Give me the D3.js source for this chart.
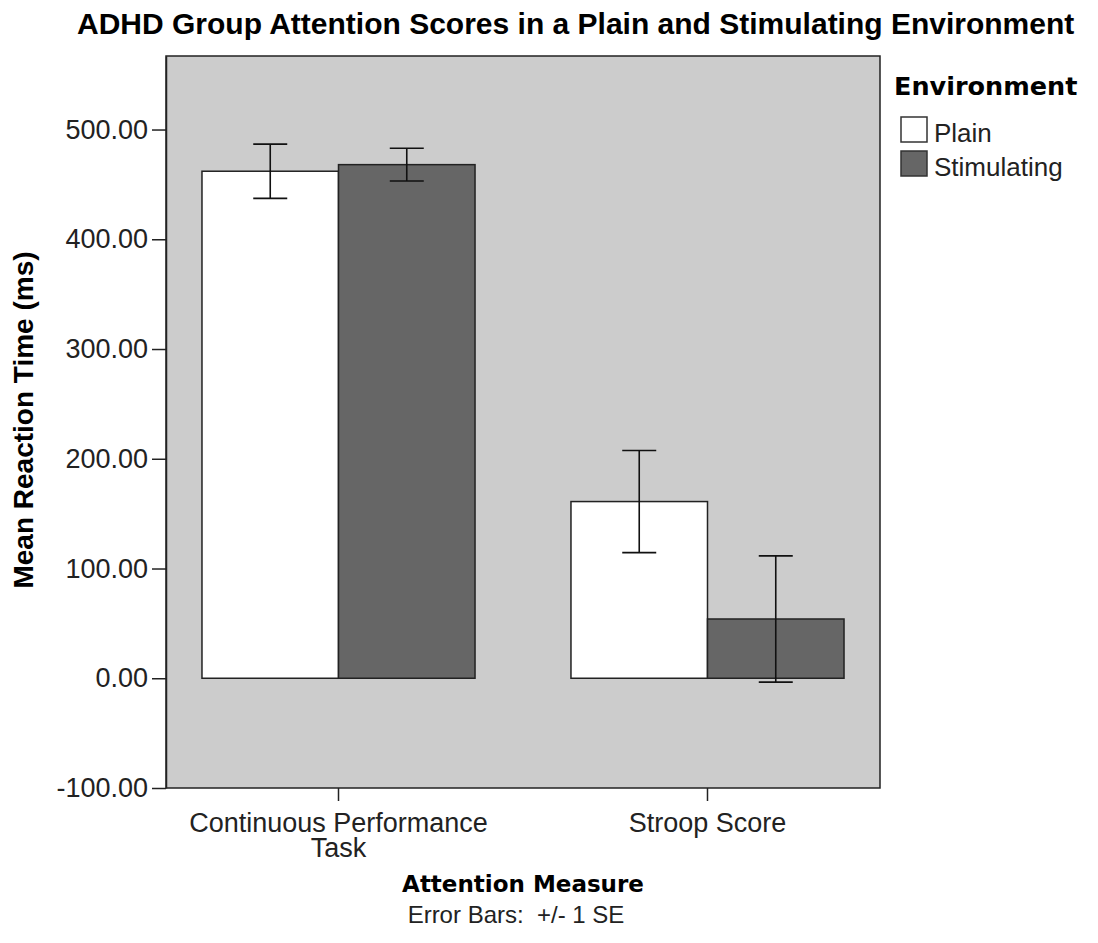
<!DOCTYPE html>
<html>
<head>
<meta charset="utf-8">
<script src="https://cdn.jsdelivr.net/npm/d3@7"></script>
<style>
  html, body { margin: 0; padding: 0; background: #fff; }
  svg { display: block; }
</style>
</head>
<body>
<svg id="chart" width="1098" height="943"></svg>
<script>
const categories = ["Continuous Performance Task", "Stroop Score"];
const categoryLines = [["Continuous Performance", "Task"], ["Stroop Score"]];
const series = ["Plain", "Stimulating"];
const plainMean = [462, 161];
const plainSE = [24.7, 46.5];
const stimMean = [468, 54];
const stimSE = [14.9, 57.5];
const yTicks = [-100, 0, 100, 200, 300, 400, 500];

const seriesColors = {"Plain": "#ffffff", "Stimulating": "#666666"};
const data = [];
categories.forEach((c, i) => {
  data.push({cat: c, s: "Plain", v: plainMean[i], se: plainSE[i]});
  data.push({cat: c, s: "Stimulating", v: stimMean[i], se: stimSE[i]});
});

const svg = d3.select("#chart");
const L = 166, R = 880, T = 56, B = 788;
const regular = "'Liberation Sans', Arial, sans-serif";
const boldAlt = "'DejaVu Sans', Verdana, sans-serif";

const y = d3.scaleLinear().domain([-100, 567]).range([B, T]);
const x0 = d3.scaleBand().domain(categories).range([L, R]).paddingInner(0.26).paddingOuter(0.0975);
const x1 = d3.scaleBand().domain(series).range([0, x0.bandwidth()]).padding(0);
const fmt = d => d3.format(".2f")(d).replace("\u2212", "-");

// plot background
svg.append("rect").attr("x", L).attr("y", T).attr("width", R - L).attr("height", B - T)
  .attr("fill", "#cccccc").attr("stroke", "#222").attr("stroke-width", 1.5);

// bars
svg.append("g").selectAll("rect").data(data).join("rect")
  .attr("x", d => x0(d.cat) + x1(d.s))
  .attr("y", d => y(Math.max(0, d.v)))
  .attr("width", x1.bandwidth())
  .attr("height", d => Math.abs(y(d.v) - y(0)))
  .attr("fill", d => seriesColors[d.s])
  .attr("stroke", "#222").attr("stroke-width", 1.5);

// error bars
const capW = 34;
const eb = svg.append("g").attr("stroke", "#111").attr("stroke-width", 1.6);
data.forEach(d => {
  const cx = x0(d.cat) + x1(d.s) + x1.bandwidth() / 2;
  eb.append("line").attr("x1", cx).attr("x2", cx).attr("y1", y(d.v + d.se)).attr("y2", y(d.v - d.se));
  eb.append("line").attr("x1", cx - capW / 2).attr("x2", cx + capW / 2).attr("y1", y(d.v + d.se)).attr("y2", y(d.v + d.se));
  eb.append("line").attr("x1", cx - capW / 2).attr("x2", cx + capW / 2).attr("y1", y(d.v - d.se)).attr("y2", y(d.v - d.se));
});

// y axis
const yAxis = svg.append("g").attr("transform", `translate(${L},0)`)
  .call(d3.axisLeft(y).tickValues(yTicks).tickFormat(fmt).tickSizeInner(14).tickSizeOuter(0).tickPadding(4));
yAxis.select(".domain").attr("stroke", "#222").attr("stroke-width", 1.5);
yAxis.selectAll(".tick line").attr("stroke", "#222").attr("stroke-width", 1.5);
yAxis.selectAll(".tick text").attr("font-family", regular).attr("font-size", 27).attr("fill", "#222");

// x axis
const xAxis = svg.append("g").attr("transform", `translate(0,${B})`)
  .call(d3.axisBottom(x0).tickSizeInner(13).tickSizeOuter(0).tickFormat(""));
xAxis.select(".domain").remove();
xAxis.selectAll(".tick line").attr("stroke", "#222").attr("stroke-width", 1.5);
xAxis.selectAll(".tick").each(function(d, i) {
  const t = d3.select(this).append("text").attr("font-family", regular).attr("font-size", 27)
    .attr("fill", "#222").attr("text-anchor", "middle");
  categoryLines[i].forEach((ln, j) => {
    t.append("tspan").attr("x", 0).attr("y", 44 + j * 25).text(ln);
  });
});

// title
svg.append("text").attr("x", 77).attr("y", 34).attr("font-family", regular)
  .attr("font-weight", "bold").attr("font-size", 30).attr("fill", "#000")
  .text("ADHD Group Attention Scores in a Plain and Stimulating Environment");

// y label
svg.append("text").attr("transform", "translate(33,420) rotate(-90)").attr("text-anchor", "middle")
  .attr("font-family", regular).attr("font-weight", "bold").attr("font-size", 28).attr("fill", "#000")
  .text("Mean Reaction Time (ms)");

// x label
svg.append("text").attr("x", 523).attr("y", 892).attr("text-anchor", "middle")
  .attr("font-family", boldAlt).attr("font-weight", "bold").attr("font-size", 23).attr("fill", "#000")
  .text("Attention Measure");

// footnote
svg.append("text").attr("x", 516).attr("y", 923).attr("text-anchor", "middle")
  .attr("font-family", regular).attr("font-size", 24).attr("fill", "#222")
  .text("Error Bars:\u00a0 +/- 1 SE");

// legend
const lg = svg.append("g");
lg.append("text").attr("x", 894).attr("y", 95).attr("font-family", boldAlt).attr("font-weight", "bold")
  .attr("font-size", 25.5).attr("fill", "#000").text("Environment");
series.forEach((s, i) => {
  const yy = 117 + i * 34;
  lg.append("rect").attr("x", 901).attr("y", yy).attr("width", 26).attr("height", 25)
    .attr("fill", seriesColors[s]).attr("stroke", "#333").attr("stroke-width", 1.5);
  lg.append("text").attr("x", 934).attr("y", yy + 25).attr("font-family", regular)
    .attr("font-size", 26).attr("fill", "#222").text(s);
});
</script>
</body>
</html>
